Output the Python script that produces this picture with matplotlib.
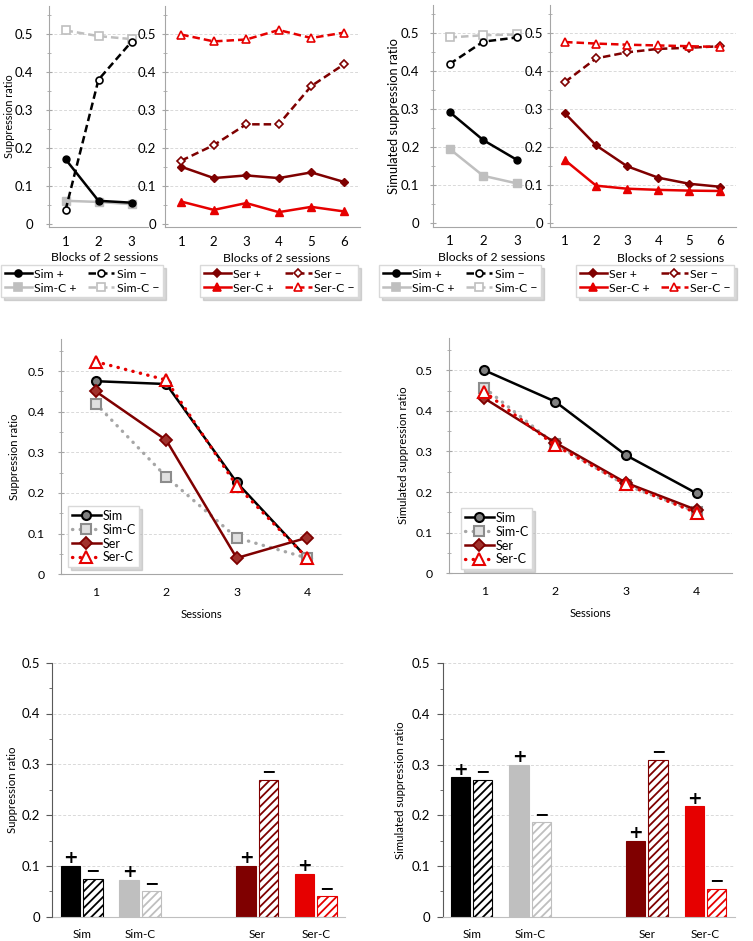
import matplotlib
matplotlib.use('Agg')
import matplotlib.pyplot as plt
import numpy as np
from matplotlib.ticker import MultipleLocator
from matplotlib.lines import Line2D

plt.rcParams['font.family'] = ['Lato', 'DejaVu Sans']
plt.rcParams['hatch.linewidth'] = 1.3

# ---------------- data ----------------
blocks_sim = [1, 2, 3]
blocks_ser = [1, 2, 3, 4, 5, 6]
sessions = [1, 2, 3, 4]

# acquisition, experiment
exp_sim_plus = [0.170, 0.060, 0.055]
exp_sim_minus = [0.035, 0.380, 0.480]
exp_simc_plus = [0.060, 0.057, 0.051]
exp_simc_minus = [0.510, 0.495, 0.487]
exp_ser_plus = [0.150, 0.120, 0.127, 0.120, 0.135, 0.110]
exp_ser_minus = [0.166, 0.207, 0.262, 0.262, 0.363, 0.420]
exp_serc_plus = [0.058, 0.036, 0.054, 0.030, 0.044, 0.032]
exp_serc_minus = [0.499, 0.481, 0.486, 0.511, 0.490, 0.504]

# acquisition, simulation
mod_sim_plus = [0.293, 0.219, 0.167]
mod_sim_minus = [0.419, 0.478, 0.489]
mod_simc_plus = [0.196, 0.125, 0.105]
mod_simc_minus = [0.489, 0.495, 0.497]
mod_ser_plus = [0.289, 0.205, 0.150, 0.120, 0.104, 0.096]
mod_ser_minus = [0.372, 0.434, 0.450, 0.459, 0.462, 0.466]
mod_serc_plus = [0.166, 0.099, 0.091, 0.088, 0.086, 0.085]
mod_serc_minus = [0.477, 0.473, 0.470, 0.468, 0.466, 0.464]

# extinction sessions
exp_ext_sim = [0.475, 0.468, 0.226, 0.040]
exp_ext_simc = [0.420, 0.240, 0.090, 0.040]
exp_ext_ser = [0.450, 0.330, 0.040, 0.090]
exp_ext_serc = [0.523, 0.478, 0.218, 0.040]

mod_ext_sim = [0.500, 0.423, 0.291, 0.197]
mod_ext_simc = [0.457, 0.318, 0.217, 0.152]
mod_ext_ser = [0.431, 0.322, 0.223, 0.156]
mod_ext_serc = [0.447, 0.315, 0.219, 0.149]

# bar summary
categories = ['Sim', 'Sim-C', '', 'Ser', 'Ser-C']
bar_exp_plus = [0.100, 0.073, np.nan, 0.100, 0.085]
bar_exp_minus = [0.075, 0.050, np.nan, 0.270, 0.040]
bar_mod_plus = [0.275, 0.300, np.nan, 0.150, 0.218]
bar_mod_minus = [0.270, 0.187, np.nan, 0.310, 0.055]

ytick_vals = [0, 0.1, 0.2, 0.3, 0.4, 0.5]
ytick_labels = ['0', '0.1', '0.2', '0.3', '0.4', '0.5']

# ---------------- style ----------------
BLACK = '#000000'
GRAY = '#BFBFBF'
DRED = '#7F0000'
RED = '#E60000'
GRID = '#D9D9D9'
AXC = '#A6A6A6'

W, H = 753, 941
fig = plt.figure(figsize=(W / 100, H / 100), dpi=100)


def rect(l, r, t, b):
    return [l / W, 1 - b / H, (r - l) / W, (b - t) / H]


def hgrid(ax, vals, x0, x1):
    for v in vals:
        if v > 0:
            ax.plot([x0, x1], [v, v], color=GRID, lw=0.7, ls=(0, (3, 2)), zorder=0)


def style_top(ax, n, labpad, fs):
    ax.set_xlim(0.5, n + 0.5)
    ax.set_ylim(-0.01, 0.575)
    ax.set_yticks(ytick_vals)
    ax.set_yticklabels(ytick_labels)
    ax.yaxis.set_minor_locator(MultipleLocator(0.05))
    ax.set_xticks(range(1, n + 1))
    ax.tick_params(axis='y', which='major', direction='inout', length=5, color=AXC,
                   labelsize=fs, pad=labpad)
    ax.tick_params(axis='y', which='minor', direction='inout', length=3, color=AXC)
    ax.tick_params(axis='x', length=0, labelsize=fs, pad=6)
    for s in ['top', 'right']:
        ax.spines[s].set_visible(False)
    ax.spines['left'].set_color(AXC)
    ax.spines['bottom'].set_color(AXC)
    hgrid(ax, ytick_vals, 0.5, n + 0.5)
    ax.set_facecolor('none')


def plot_plus_minus(ax, x, plus, minus, color, marker, ms):
    ax.plot(x, plus, color=color, lw=1.8, marker=marker, ms=ms, mfc=color, mec=color, zorder=3)
    ax.plot(x, minus, color=color, lw=1.8, ls=(0, (3, 1.6)), marker=marker, ms=ms,
            mfc='white', mec=color, mew=1.2, zorder=3)


def top_group(axL, axR, sim_p, sim_m, simc_p, simc_m, ser_p, ser_m, serc_p, serc_m,
              ylabel, ylfs, ylx, xlL, xlR, legL, legR, fs):
    plot_plus_minus(axL, blocks_sim, simc_p, simc_m, GRAY, 's', 6)
    plot_plus_minus(axL, blocks_sim, sim_p, sim_m, BLACK, 'o', 5)
    plot_plus_minus(axR, blocks_ser, ser_p, ser_m, DRED, 'D', 4.5)
    plot_plus_minus(axR, blocks_ser, serc_p, serc_m, RED, '^', 5.5)
    axL.set_ylabel(ylabel, fontsize=ylfs)
    axL.yaxis.set_label_coords(ylx, 0.5)
    axL.set_xlabel('Blocks of 2 sessions', fontsize=fs)
    axR.set_xlabel('Blocks of 2 sessions', fontsize=fs)
    axL.xaxis.set_label_coords(xlL, -0.11)
    axR.xaxis.set_label_coords(xlR, -0.115)

    def mk(color, marker, ms, filled, dashed):
        return Line2D([], [], color=color, lw=1.8, ls=(0, (3, 1.6)) if dashed else '-',
                      marker=marker, ms=ms, mfc=color if filled else 'white', mec=color, mew=1.2)
    hL = [mk(BLACK, 'o', 5, True, False), mk(GRAY, 's', 6, True, False),
          mk(BLACK, 'o', 5, False, True), mk(GRAY, 's', 6, False, True)]
    lL = ['Sim +', 'Sim-C +', 'Sim \u2212', 'Sim-C \u2212']
    hR = [mk(DRED, 'D', 4.5, True, False), mk(RED, '^', 5.5, True, False),
          mk(DRED, 'D', 4.5, False, True), mk(RED, '^', 5.5, False, True)]
    lR = ['Ser +', 'Ser-C +', 'Ser \u2212', 'Ser-C \u2212']
    for h, l, pos in [(hL, lL, legL), (hR, lR, legR)]:
        fig.legend(h, l, ncol=2, loc='upper left', bbox_to_anchor=(pos[0] / W, 1 - pos[1] / H),
                   fontsize=fs, frameon=True, fancybox=False, edgecolor='#D9D9D9',
                   shadow={'color': '#AAAAAA', 'alpha': 0.45, 'ox': 2, 'oy': -2},
                   handlelength=2.2, handletextpad=0.2, columnspacing=0.9,
                   borderpad=0.3, labelspacing=0.25, borderaxespad=0)


# ---- top-left: experiment acquisition
axA = fig.add_axes(rect(49, 148, 5.8, 227.3))
axB = fig.add_axes(rect(165, 360, 5.8, 227.3))
style_top(axA, 3, 9, 9.5)
style_top(axB, 6, 4, 9.5)
top_group(axA, axB, exp_sim_plus, exp_sim_minus, exp_simc_plus, exp_simc_minus,
          exp_ser_plus, exp_ser_minus, exp_serc_plus, exp_serc_minus,
          'Suppression ratio', 7.8, -0.343, 0.566, 0.574, (1, 265), (200, 265), 8.8)

# ---- top-right: simulated acquisition
axC = fig.add_axes(rect(432.7, 533.7, 4.8, 227.1))
axD = fig.add_axes(rect(549.5, 736, 4.8, 227.1))
style_top(axC, 3, 7, 9.5)
style_top(axD, 6, 2, 9.5)
top_group(axC, axD, mod_sim_plus, mod_sim_minus, mod_simc_plus, mod_simc_minus,
          mod_ser_plus, mod_ser_minus, mod_serc_plus, mod_serc_minus,
          'Simulated suppression ratio', 9.3, -0.324, 0.585, 0.65, (379, 265), (576, 265), 8.8)


# ---- middle: extinction sessions
def style_mid(ax, ylabel, ylx):
    ax.set_xlim(0.5, 4.5)
    ax.set_ylim(0, 0.58)
    ax.set_yticks(ytick_vals)
    ax.set_yticklabels(ytick_labels)
    ax.yaxis.set_minor_locator(MultipleLocator(0.05))
    ax.set_xticks(sessions)
    ax.tick_params(axis='y', which='major', direction='inout', length=5, color=AXC,
                   labelsize=8.8, pad=9)
    ax.tick_params(axis='y', which='minor', direction='inout', length=3, color=AXC)
    ax.tick_params(axis='x', length=0, labelsize=8.8, pad=9)
    for s in ['top', 'right']:
        ax.spines[s].set_visible(False)
    ax.spines['left'].set_color(AXC)
    ax.spines['bottom'].set_color(AXC)
    hgrid(ax, ytick_vals, 0.5, 4.5)
    ax.set_ylabel(ylabel, fontsize=8.2)
    ax.yaxis.set_label_coords(ylx, 0.5)
    ax.set_xlabel('Sessions', fontsize=8, labelpad=8)


def mid_lines(ax, sim, simc, ser, serc):
    dot = (0, (0.1, 2.2))
    hs = []
    hs.append(ax.plot(sessions, sim, color=BLACK, lw=1.8, marker='o', ms=6.5, mfc='#808080',
                      mec=BLACK, mew=1.5, zorder=3, label='Sim')[0])
    hs.append(ax.plot(sessions, simc, color='#A6A6A6', lw=2.4, ls=dot, dash_capstyle='round',
                      marker='s', ms=7, mfc='#E0E0E0', mec='#8C8C8C', mew=1.5, zorder=3,
                      label='Sim-C')[0])
    hs.append(ax.plot(sessions, ser, color=DRED, lw=1.8, marker='D', ms=6.5, mfc='#A0322D',
                      mec=DRED, mew=1.3, zorder=4, label='Ser')[0])
    hs.append(ax.plot(sessions, serc, color=RED, lw=2.4, ls=dot, dash_capstyle='round',
                      marker='^', ms=8, mfc='white', mec=RED, mew=1.5, zorder=5,
                      label='Ser-C')[0])
    return hs


axE = fig.add_axes(rect(60.5, 342.4, 338.5, 574.3))
style_mid(axE, 'Suppression ratio', -0.144)
hE = mid_lines(axE, exp_ext_sim, exp_ext_simc, exp_ext_ser, exp_ext_serc)
axF = fig.add_axes(rect(449, 732, 337.8, 573.3))
style_mid(axF, 'Simulated suppression ratio', -0.141)
hF = mid_lines(axF, mod_ext_sim, mod_ext_simc, mod_ext_ser, mod_ext_serc)
for ax, hs, pos in [(axE, hE, (68, 506)), (axF, hF, (461, 508))]:
    ax.legend(handles=hs, loc='upper left', bbox_to_anchor=(pos[0] / W, 1 - pos[1] / H),
              bbox_transform=fig.transFigure, fontsize=9, frameon=True, fancybox=False,
              edgecolor='#D9D9D9', shadow={'color': '#AAAAAA', 'alpha': 0.45, 'ox': 2, 'oy': -2},
              handlelength=2.3, handletextpad=0.15, borderpad=0.3, labelspacing=0.15,
              borderaxespad=0, framealpha=1)

# ---- bottom: bar summaries
bar_colors = [BLACK, GRAY, BLACK, DRED, RED]


def bar_panel(ax, plus, minus, ylabel, ylx):
    x = np.arange(len(categories))
    w = 0.33
    off = 0.19
    for xi, p, m, c in zip(x, plus, minus, bar_colors):
        if np.isnan(p):
            continue
        ax.bar(xi - off, p, w, color=c, edgecolor=c, linewidth=0.8, zorder=2)
        ax.bar(xi + off, m, w, facecolor='white', edgecolor=c, hatch='////', linewidth=0.8,
               zorder=2)
        ax.annotate('+', (xi - off, p), xytext=(0, 5.5), textcoords='offset points',
                    ha='center', va='center', fontsize=12.5, fontweight='bold',
                    family='DejaVu Sans')
        ax.annotate('\u2212', (xi + off, m), xytext=(0, 6), textcoords='offset points',
                    ha='center', va='center', fontsize=12.5, fontweight='bold',
                    family='DejaVu Sans')
    ax.set_xlim(-0.5, len(categories) - 0.5)
    ax.set_ylim(0, 0.5)
    ax.set_xticks(x)
    ax.set_xticklabels(categories)
    ax.set_yticks(ytick_vals)
    ax.set_yticklabels(ytick_labels)
    ax.yaxis.set_minor_locator(MultipleLocator(0.05))
    ax.tick_params(axis='y', which='major', direction='out', length=4, color='#595959',
                   labelsize=9.5, pad=5)
    ax.tick_params(axis='y', which='minor', direction='out', length=2.5, color='#595959')
    ax.tick_params(axis='x', length=0, labelsize=8.5, pad=9)
    for s in ['top', 'right']:
        ax.spines[s].set_visible(False)
    ax.spines['left'].set_color('#595959')
    ax.spines['bottom'].set_color('#BFBFBF')
    hgrid(ax, ytick_vals, -0.5, len(categories) - 0.5)
    ax.set_ylabel(ylabel, fontsize=8.2)
    ax.yaxis.set_label_coords(ylx, 0.5)


axG = fig.add_axes(rect(52.5, 345, 662.7, 916.7))
bar_panel(axG, bar_exp_plus, bar_exp_minus, 'Suppression ratio', -0.118)
axH = fig.add_axes(rect(442.5, 734.5, 663.3, 916.7))
bar_panel(axH, bar_mod_plus, bar_mod_minus, 'Simulated suppression ratio', -0.125)

fig.savefig('out.png', dpi=100)
